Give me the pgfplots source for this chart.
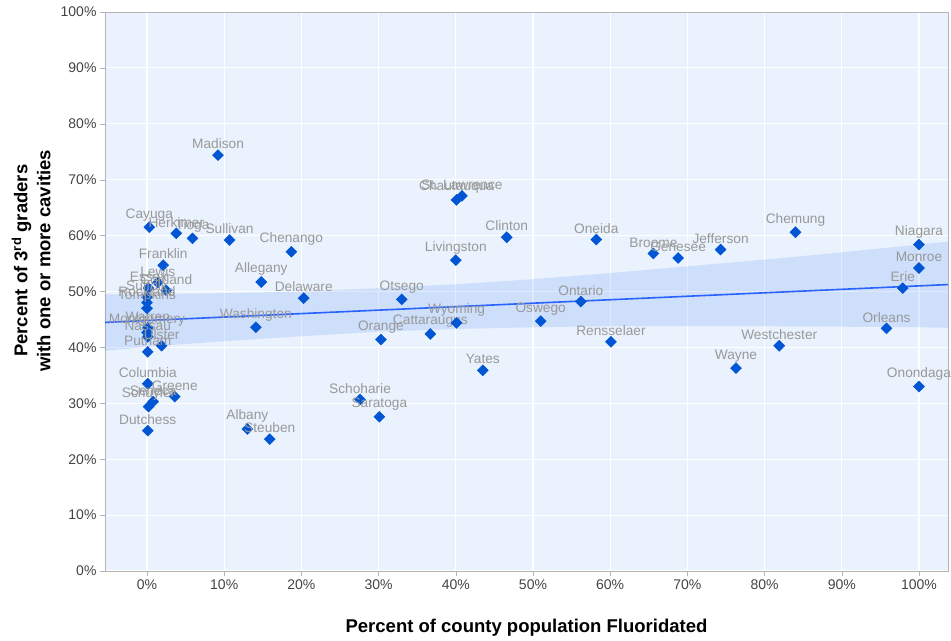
\documentclass[border=0pt]{standalone}
\usepackage{fontspec}
\setmainfont{Liberation Sans}
\usepackage{pgfplots}
\pgfplotsset{compat=1.18}
\usepackage{pgfplotstable}
\definecolor{bgblue}{HTML}{E9F2FD}
\definecolor{ptblue}{HTML}{0055D4}
\definecolor{lineblue}{HTML}{2962FF}
\definecolor{bandblue}{HTML}{2F6FF0}
\definecolor{lblgray}{HTML}{999999}
\definecolor{tickgray}{HTML}{444444}
\definecolor{axgray}{HTML}{B4B4B4}

\pgfplotstableread[col sep=comma]{
x,y,name
9.2,74.4,Madison
0.3,61.5,Cayuga
3.8,60.4,Herkimer
5.9,59.5,Tioga
10.7,59.2,Sullivan
18.7,57.1,Chenango
2.1,54.7,Franklin
1.4,51.6,Lewis
0.2,50.6,Essex
2.5,50.2,Cortland
0.0,49.0,Suffolk
0.0,48.0,Rockland
0.0,47.0,Tompkins
0.1,43.5,Warren
0.0,42.7,Montgomery
0.1,41.9,Nassau
1.9,40.3,Ulster
0.1,39.2,Putnam
0.1,33.5,Columbia
3.6,31.2,Greene
0.8,30.3,Seneca
0.2,29.4,Schuyler
0.1,25.1,Dutchess
13.0,25.4,Albany
15.9,23.6,Steuben
14.8,51.7,Allegany
20.3,48.8,Delaware
14.1,43.6,Washington
33.0,48.6,Otsego
30.3,41.4,Orange
36.7,42.4,Cattaraugus
40.1,44.4,Wyoming
27.6,30.7,Schoharie
30.1,27.6,Saratoga
43.5,35.9,Yates
40.0,55.6,Livingston
46.6,59.7,Clinton
40.1,66.4,Chautauqua
40.8,67.1,St. Lawrence
51.0,44.7,Oswego
56.2,48.2,Ontario
60.1,41.0,Rensselaer
58.2,59.3,Oneida
65.6,56.8,Broome
68.8,56.0,Genesee
74.3,57.5,Jefferson
84.0,60.6,Chemung
76.3,36.3,Wayne
81.9,40.3,Westchester
100.0,58.4,Niagara
100.0,54.2,Monroe
97.9,50.6,Erie
95.8,43.4,Orleans
100.0,33.0,Onondaga
}\counties

\begin{document}
\begin{tikzpicture}
\begin{axis}[
  scale only axis,
  width=843bp, height=559bp,
  xmin=-5.44, xmax=103.76,
  ymin=0, ymax=100,
  axis background/.style={fill=bgblue},
  axis line style={axgray},
  xtick={0,10,...,100},
  ytick={0,10,...,100},
  xticklabels={0\%,10\%,20\%,30\%,40\%,50\%,60\%,70\%,80\%,90\%,100\%},
  yticklabels={0\%,10\%,20\%,30\%,40\%,50\%,60\%,70\%,80\%,90\%,100\%},
  xtick pos=bottom, ytick pos=left,
  tick align=outside,
  major tick length=5bp,
  tick style={axgray},
  grid=major,
  major grid style={white, line width=1.2bp},
  ticklabel style={font=\fontsize{14bp}{16bp}\selectfont, text=tickgray},
  xlabel={Percent of county population Fluoridated},
  ylabel={Percent of 3\textsuperscript{rd} graders\\with one or more cavities},
  xlabel style={font=\bfseries\fontsize{18.5bp}{21bp}\selectfont, at={(axis description cs:0.5,-0.1015)}, anchor=center},
  ylabel style={font=\bfseries\fontsize{18.5bp}{23bp}\selectfont, align=center, at={(axis description cs:-0.0875,0.555)}, anchor=center},
  clip=false,
]
\addplot[draw=none, fill=bandblue, fill opacity=0.14, forget plot] coordinates {
  (-5.44,49.5) (0,49.5) (10,49.7) (20,50.0) (30,50.6) (40,51.3) (50,52.2) (60,53.3)
  (70,54.5) (80,55.7) (90,57.0) (100,58.4) (103.76,58.9)
  (103.76,43.5) (100,43.6) (90,43.7) (80,43.8) (70,43.8) (60,43.8) (50,43.6)
  (40,43.3) (30,42.8) (20,42.0) (10,41.1) (0,40.1) (-5.44,39.4)
} -- cycle;
\addplot[lineblue, line width=1.6bp, forget plot] coordinates {(-5.44,44.47) (103.76,51.24)};
\addplot[only marks, mark=square*, mark size=3.9bp,
  mark options={rotate=45, fill=ptblue, draw=ptblue},
  nodes near coords, point meta=explicit symbolic,
  every node near coord/.append style={font=\fontsize{13.7bp}{15bp}\selectfont, text=lblgray, anchor=south, inner sep=3.5bp, yshift=2.5bp}
] table[x=x, y=y, meta=name] {\counties};
\end{axis}
\pgfresetboundingbox
\path ([shift={(-105bp,-70bp)}]current axis.south west) rectangle ([shift={(3bp,12bp)}]current axis.north east);
\end{tikzpicture}
\end{document}
